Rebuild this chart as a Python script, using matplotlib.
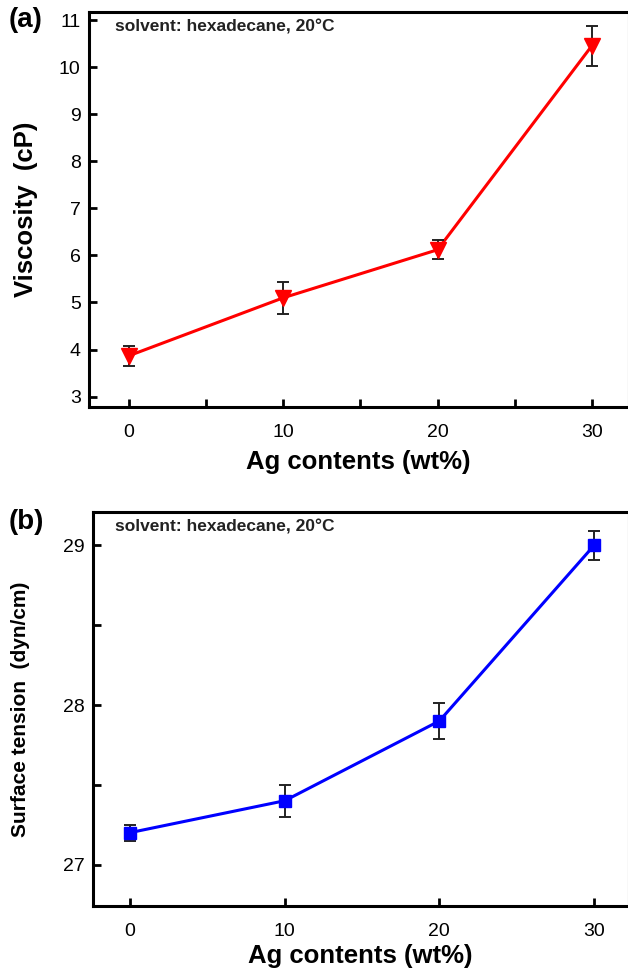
import numpy as np
import matplotlib
matplotlib.use("Agg")
from matplotlib import pyplot as plt
from matplotlib.ticker import MultipleLocator

plt.rcParams['font.family'] = ['Liberation Sans', 'DejaVu Sans']

# Ag content (wt%)
ag = [0, 10, 20, 30]
# viscosity (cP) and its error
visc = [3.87, 5.10, 6.12, 10.45]
visc_err = [0.21, 0.34, 0.20, 0.43]
# surface tension (dyn/cm) and its error
tension = [27.2, 27.4, 27.9, 29.0]
tension_err = [0.05, 0.10, 0.11, 0.09]

note = "solvent: hexadecane, 20\u00b0C"

fig = plt.figure(figsize=(6.28, 9.73), dpi=100)
W, H = 628, 973

def px_axes(l, t, r, b):
    # axes from pixel box
    return fig.add_axes([l / W, 1 - b / H, (r - l) / W, (b - t) / H])

ax1 = px_axes(89, 12, 628, 407)
ax2 = px_axes(93, 512, 628, 906)

for ax in (ax1, ax2):
    for side in ('left', 'bottom', 'top'):
        ax.spines[side].set_linewidth(2.2)
    ax.spines['right'].set_linewidth(0.8)
    ax.spines['right'].set_color('#888888')
    ax.tick_params(direction='in', length=6, width=2, labelsize=14, pad=6)
    ax.tick_params(which='minor', direction='in', length=6, width=2)
    ax.tick_params(axis='x', pad=12)

# (a) viscosity
ax1.plot(ag, visc, color='red', lw=2.2, zorder=2)
ax1.errorbar(ag, visc, yerr=visc_err, fmt='none', ecolor='#222222',
             elinewidth=1.4, capsize=4, capthick=1.4, zorder=3)
ax1.plot(ag, visc, 'v', color='red', ms=11, zorder=4)
ax1.set_xlim(-2.6, 32.35)
ax1.set_ylim(2.78, 11.17)
ax1.xaxis.set_major_locator(MultipleLocator(10))
ax1.xaxis.set_minor_locator(MultipleLocator(5))
ax1.yaxis.set_major_locator(MultipleLocator(1))
ax1.set_xlabel("Ag contents (wt%)", fontsize=18.5, fontweight='bold', labelpad=7)
ax1.set_ylabel("Viscosity  (cP)", fontsize=18.5, fontweight='bold', labelpad=15)
fig.text(115 / W, 1 - 27 / H, note, fontsize=12.5, fontweight='bold',
         va='center', ha='left', color='#222222')
fig.text(9 / W, 1 - 20 / H, "(a)", fontsize=20, fontweight='bold', va='center')

# (b) surface tension
ax2.plot(ag, tension, color='blue', lw=2.2, zorder=2)
ax2.errorbar(ag, tension, yerr=tension_err, fmt='none', ecolor='#222222',
             elinewidth=1.4, capsize=4, capthick=1.4, zorder=3)
ax2.plot(ag, tension, 's', color='blue', ms=8.5, zorder=4)
ax2.set_xlim(-2.4, 32.2)
ax2.set_ylim(26.74, 29.21)
ax2.xaxis.set_major_locator(MultipleLocator(10))
ax2.yaxis.set_major_locator(MultipleLocator(1))
ax2.yaxis.set_minor_locator(MultipleLocator(0.5))
ax2.set_xlabel("Ag contents (wt%)", fontsize=18.5, fontweight='bold', labelpad=3)
ax2.set_ylabel("Surface tension  (dyn/cm)", fontsize=15, fontweight='bold', labelpad=24)
fig.text(115 / W, 1 - 527 / H, note, fontsize=12.5, fontweight='bold',
         va='center', ha='left', color='#222222')
fig.text(9 / W, 1 - 522 / H, "(b)", fontsize=20, fontweight='bold', va='center')

fig.savefig("out.png", dpi=100)
